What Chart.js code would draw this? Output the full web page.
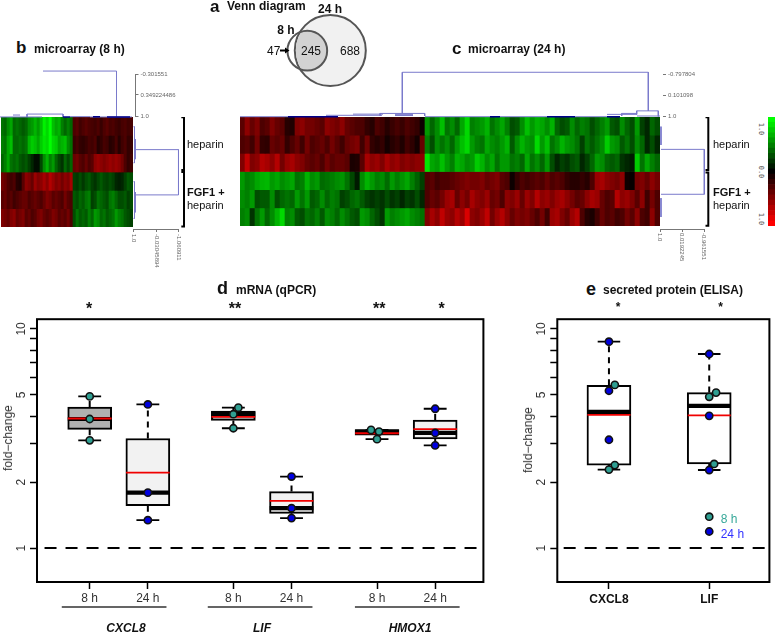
<!DOCTYPE html>
<html><head><meta charset="utf-8">
<script src="https://cdn.jsdelivr.net/npm/chart.js@4"></script>
<style>
html,body{margin:0;padding:0;background:#fff}
#fig{position:relative;width:775px;height:632px;overflow:hidden;background:#fff}
canvas{position:absolute}
.t{position:absolute;left:0;top:0;white-space:nowrap;line-height:1;font-family:"Liberation Sans",Arial,sans-serif;transform-origin:0 0;color:#111}
</style></head><body><div id="fig"></div>
<script>
// ---------- DATA ----------
// Panel a
const vennLabels = ['8 h', '24 h'];
const vennOnly8 = 47, vennBoth = 245, vennOnly24 = 688;
// Panel b heat map, expression x100 (green up, red down), rows top to bottom
const b1 = [45,40,55,65,40,45,40,35,40,55,60,70,60,75,95,85,100,75,65,70,50,40,50,40,-30,-35,-25,-30,-35,-30,-28,-25,-30,-22,-30,-35,-28,-30,-25,-22,-28,-30,-25,-28];
const b2 = [50,45,65,75,40,40,45,40,45,70,80,75,65,80,90,85,100,85,80,65,70,75,55,45,-22,-28,-20,-18,-22,-28,-25,-30,-15,-20,-28,-25,-15,-18,-28,-15,-25,-30,-20,-22];
const b3 = [40,50,65,45,40,45,35,30,35,25,15,5,5,28,55,70,50,60,40,28,20,40,28,40,-40,-45,-35,-30,-40,-30,-35,-55,-60,-55,-50,-55,-60,-55,-60,-55,-45,-30,-20,-25];
const b4 = [-45,-40,-30,-25,-30,-15,-12,-35,-55,-50,-40,-60,-50,-55,-65,-55,-70,-60,-50,-55,-45,-55,-50,-65,25,22,30,22,30,35,25,20,28,35,28,25,30,25,15,12,15,25,35,30];
const b5 = [-35,-40,-30,-35,-25,-30,-35,-40,-40,-30,-35,-40,-35,-30,-40,-50,-45,-35,-40,-35,-30,-45,-35,-30,35,30,40,35,45,50,25,30,45,40,35,30,45,50,40,30,30,35,25,30];
const b6 = [-50,-45,-40,-50,-55,-40,-45,-50,-35,-40,-30,-35,-45,-50,-40,-35,-40,-50,-45,-35,-40,-35,-45,-30,30,45,35,40,35,50,40,60,55,40,45,35,40,45,60,50,45,35,30,25];
// Panel c heat map
const c1 = [-35,-55,-40,-50,-30,-35,-50,-40,-35,-15,-12,-50,-55,-45,-45,-40,-35,-55,-50,-45,-55,-40,-35,-30,-30,-20,-15,-30,-25,-15,-22,-28,-22,-30,-25,-20,-5,
 60,40,55,75,45,55,40,65,85,50,55,60,70,45,55,65,50,30,35,55,75,60,70,65,55,70,40,30,35,55,40,50,45,30,40,50,60,35,30,55,40,30,60,25,15,40,30];
const c2 = [-30,-35,-25,-45,-20,-18,-40,-35,-40,-20,-30,-40,-25,-45,-30,-35,-40,-30,-45,-35,-25,-40,-45,-50,-25,-45,-20,-15,-20,-8,-15,-20,-12,-25,-18,-8,-40,
 50,30,55,45,55,40,60,75,85,60,50,45,65,55,50,60,70,35,55,70,60,55,85,60,75,45,55,70,60,55,45,25,45,35,45,55,80,60,55,35,45,30,55,40,15,30,15];
const c3 = [-50,-75,-50,-55,-70,-65,-55,-70,-45,-60,-65,-55,-50,-40,-35,-40,-30,-45,-35,-40,-40,-35,-10,-12,-35,-65,-55,-60,-50,-65,-55,-60,-50,-55,-50,-55,-55,
 90,65,60,75,60,50,70,65,55,60,80,70,55,65,45,60,60,45,50,40,65,45,55,40,60,30,15,25,20,30,35,15,25,40,60,55,40,35,40,20,15,10,80,45,65,50,40];
const c4 = [60,50,55,65,70,72,60,65,55,60,65,45,50,70,55,60,42,45,50,55,58,45,28,10,55,70,60,50,55,42,60,50,58,65,50,38,25,
 -30,-35,-25,-30,-30,-35,-40,-45,-50,-45,-45,-50,-40,-45,-50,-35,-30,-5,-20,-30,-25,-30,-35,-30,-40,-30,-35,-30,-20,-15,-15,-20,-15,-30,-60,-65,-55,-50,-45,-55,-5,-2,-45,-50,-40,-55,-45];
const c5 = [55,50,60,30,35,35,55,30,40,45,40,60,45,60,35,40,55,40,50,45,25,30,40,45,35,25,20,25,20,30,20,25,15,25,20,30,15,
 -30,-40,-35,-45,-60,-65,-40,-55,-45,-65,-55,-50,-60,-40,-45,-30,-55,-50,-60,-40,-60,-50,-70,-55,-60,-50,-60,-65,-55,-45,-35,-40,-55,-65,-60,-40,-30,-35,-70,-55,-60,-50,-35,-55,-25,-45,-30];
const c6 = [50,55,20,45,60,40,55,70,85,50,55,35,30,45,40,50,35,55,50,40,55,45,35,30,60,55,40,30,20,60,50,55,60,65,55,50,45,
 -50,-65,-55,-75,-60,-55,-70,-60,-85,-55,-50,-60,-75,-45,-60,-70,-55,-40,-50,-45,-50,-40,-30,-45,-25,-60,-65,-50,-40,-60,-70,-30,-15,-10,-25,-40,-30,-35,-25,-30,-45,-35,-55,-30,-25,-55,-30];
const colorKeyLevels = [100,90,80,70,60,50,40,30,20,10,0,-10,-20,-30,-40,-50,-60,-70,-80,-90,-100];
// Dendrogram axis ticks
const bTopTicks = [-0.301551, 0.349224486, 1.0];
const bTopTickText = ['-0.301551', '0.349224486', '1.0'];
const cTopTicks = [-0.797804, 0.101098, 1.0];
const cTopTickText = ['-0.797804', '0.101098', '1.0'];
const bSideTicks = [1.0, -0.03045894, -1.060911];
const bSideTickText = ['1.0', '-0.03045894', '-1.060911'];
const cSideTicks = [1.0, 0.0192245, -0.961551];
const cSideTickText = ['1.0', '0.0192245', '-0.961551'];
// Dendrogram merges: [from, to, at] in (leaf, height) or (height, row)
const bTopLight = [[43,116.5,-0.393],[0,42,1.03],[13,20,0.97],[27,63,0.94],[90,132,1.03],[70,90,1.02]];
const bTopNavy = [[63,70,1.03],[93,100,1.02],[107,130,1.03]];
const bTopStem = [[116.5,-0.393,1.03],[27,0.94,1.03],[63,0.94,1.03]];
const cTopLight = [[162.3,408.3,-0.872],[396.7,418.3,0.78],[381.7,396.7,0.89],[140,184.7,0.89],[0,48,1.03],[86,142,0.97],[113,143,0.92],[185,250,1.03],[260,297,1.03],[155,173,0.92],[155,173,0.95],[155,173,0.98],[297,307,1.03],[335,367,1.03],[367,397,0.93],[397,420,1.0]];
const cTopNavy = [[48,98,1.03],[250,260,1.03],[307,335,1.03],[367,380,1.03]];
const cTopStem = [[162.3,-0.872,0.89],[408.3,-0.872,0.78],[396.7,0.78,0.93],[418.3,0.78,1.02],[381.7,0.89,1],[140,0.89,1],[184.7,0.89,1]];
const bSideH = [[-1.0609,0.954,1.78],[-1.0609,0.954,4.25],[0.954,1,0.53],[0.954,1,2.5],[0.954,1,3.53],[0.954,1,5.53]];
const bSideV = [[-1.0609,1.78,4.25],[0.954,0.53,2.5],[0.954,3.53,5.53],[0.92,1.2,2.3],[0.92,4.1,5.2]];
const cSideH = [[-0.9616,0.956,1.78],[-0.9616,0.956,4.25],[0.956,1,0.53],[0.956,1,1.54],[0.956,1,4.46],[0.956,1,5.5]];
const cSideV = [[-0.9616,1.78,4.25],[0.956,0.53,1.54],[0.956,4.46,5.5]];
// Panel d, qPCR fold-change
const dTimes = ['8 h','24 h','8 h','24 h','8 h','24 h'];
const dGenes = ['CXCL8','LIF','HMOX1'];
const dQ1 = [3.48,1.56,3.82,1.44,3.27,3.15];
const dMedian = [3.88,1.79,4.08,1.52,3.40,3.35];
const dMean = [3.90,2.21,3.97,1.64,3.34,3.49];
const dQ3 = [4.40,3.16,4.22,1.81,3.47,3.84];
const dLow = [3.10,1.34,3.52,1.37,3.14,2.94];
const dHigh = [4.92,4.52,4.37,2.12,3.46,4.32];
const dPoints = [[4.92,3.88,3.10],[4.52,1.79,1.34],[4.37,4.08,3.52],[2.12,1.52,1.37],[3.46,3.40,3.14],[4.32,3.35,2.94]];
const dSignificance = ['*','','**','','**','*'];
// Panel e, ELISA fold-change
const eGenes = ['CXCL8','LIF'];
const eQ1 = [2.39,2.42];
const eMedian = [4.18,4.45];
const eMean = [4.05,4.03];
const eQ3 = [5.53,5.12];
const eLow = [2.28,2.27];
const eHigh = [8.74,7.68];
const ePoints8h = [[5.55,2.39,2.28],[5.12,4.90,2.42]];
const ePoints24h = [[8.74,5.22,3.12],[7.68,4.01,2.27]];
const eSignificance = ['*','*'];
const legendTimes = ['8 h','24 h'];

// ---------- LAYOUT / STYLE ----------
const dPos = [1,2,3.47,4.47,5.94,6.94];
const dJitterPx = [[0,0,0],[0,0,0],[5,0,0],[0,0,0],[-6,2,0],[0,0,0]];
const dGeneSpans = [[0.52,2.32],[3.03,4.83],[5.56,7.36]];
const ePos = [1,2];
const eJitter8hPx = [[6,6,0],[7,0,5]];
const TEAL = '#2f9f92', BLUE = '#0000e0', DEND = '#7a7acb', NAVY = '#00008b';
const FONT = '"Liberation Sans", Arial, sans-serif';
const fig = document.getElementById('fig');
Chart.defaults.font.family = FONT;
Chart.defaults.animation = false;
Chart.defaults.responsive = false;
Chart.defaults.plugins.legend.display = false;
Chart.defaults.plugins.tooltip.enabled = false;

function txt(s, x, y, o = {}) {
  const d = document.createElement('div');
  d.className = 't';
  d.textContent = s;
  d.style.fontSize = (o.size || 12) + 'px';
  if (o.bold) d.style.fontWeight = 'bold';
  if (o.italic) d.style.fontStyle = 'italic';
  if (o.color) d.style.color = o.color;
  if (o.font) d.style.fontFamily = o.font;
  const tx = o.anchor === 'middle' ? -50 : o.anchor === 'end' ? -100 : 0;
  d.style.transform = `translate(${x}px,${y}px) rotate(${o.rot || 0}deg) translate(${tx}%,-50%)`;
  fig.appendChild(d);
}
function mk(left, top, w, h, cfg) {
  const c = document.createElement('canvas');
  c.width = w; c.height = h;
  c.style.left = left + 'px'; c.style.top = top + 'px';
  c.style.width = w + 'px'; c.style.height = h + 'px';
  fig.appendChild(c);
  return new Chart(c.getContext('2d'), cfg);
}
const heatColor = v => v >= 0 ? `rgb(0,${Math.round(v * 2.55)},0)` : `rgb(${Math.round(-v * 2.55)},0,0)`;
function segs(list) {
  const out = [];
  list.forEach(s => { s.forEach(p => out.push({x: p[0], y: p[1]})); out.push({x: null, y: null}); });
  return out;
}
const lineDs = (list, color, width, extra = {}) => Object.assign({
  type: 'line', data: segs(list), borderColor: color, borderWidth: width, pointRadius: 0,
  spanGaps: false, fill: false, tension: 0, borderCapStyle: 'butt'
}, extra);

// ---------- HEAT MAPS ----------
function heat(left, top, w, h, rows) {
  mk(left, top, w, h, {
    type: 'bar',
    data: { labels: rows[0].map((_, i) => i + 1),
      datasets: rows.map(r => ({ data: r.map(() => 1), backgroundColor: r.map(heatColor), borderWidth: 0,
        categoryPercentage: 1, barPercentage: 1, stack: 's' })) },
    options: { maintainAspectRatio: false,
      scales: { x: { display: false, stacked: true }, y: { display: false, stacked: true, min: 0, max: rows.length, reverse: true } } }
  });
}
heat(1, 117, 132, 110, [b1,b2,b3,b4,b5,b6]);
heat(240, 117, 420, 109, [c1,c2,c3,c4,c5,c6]);
// colour key
mk(768, 117, 7, 109, {
  type: 'bar',
  data: { labels: colorKeyLevels, datasets: [{ data: colorKeyLevels.map(() => 1), backgroundColor: colorKeyLevels.map(heatColor), borderWidth: 0, categoryPercentage: 1, barPercentage: 1 }] },
  options: { indexAxis: 'y', maintainAspectRatio: false, scales: { x: { display: false, min: 0, max: 1 }, y: { display: false } } }
});
txt('1.0', 760, 129, { size: 7, rot: 90, anchor: 'middle', color: '#555', font: '"DejaVu Sans Mono", monospace' });
txt('0.0', 760, 172, { size: 7, rot: 90, anchor: 'middle', color: '#555', font: '"DejaVu Sans Mono", monospace' });
txt('1.0', 760, 219, { size: 7, rot: 90, anchor: 'middle', color: '#555', font: '"DejaVu Sans Mono", monospace' });

// ---------- DENDROGRAMS ----------
function topDend(left, w, plotW, xMax, ticks, text, light, navy, stem, showBorder) {
  const ls = light.map(a => [[a[0], a[2]], [a[1], a[2]]]).concat(stem.map(a => [[a[0], a[1]], [a[0], a[2]]]));
  const ns = navy.map(a => [[a[0], a[2]], [a[1], a[2]]]);
  mk(left, 60, w, 62, {
    type: 'line',
    data: { datasets: [
      lineDs(ns, NAVY, 1.5, { clip: false }),
      lineDs(ls, DEND, 1, { clip: false }) ] },
    options: { maintainAspectRatio: false, layout: { padding: { top: 14, bottom: 6 } },
      scales: {
        x: { type: 'linear', display: false, min: 0, max: xMax },
        y: { type: 'linear', position: 'right', min: ticks[0], max: 1, reverse: true,
          afterFit: s => { s.width = w - plotW; },
          afterBuildTicks: s => { s.ticks = ticks.map(v => ({ value: v })); },
          border: { display: showBorder, color: '#777', width: 1 },
          grid: { drawOnChartArea: false, tickLength: 3, color: '#777', tickWidth: 1 },
          ticks: { autoSkip: false, padding: 2, color: '#666', font: { size: 6 },
            callback: (v, i) => text[i] } }
      } }
  });
}
topDend(0, 195, 135.5, 135.5, bTopTicks, bTopTickText, bTopLight, bTopNavy, bTopStem, true);
topDend(240, 480, 423, 423, cTopTicks, cTopTickText, cTopLight, cTopNavy, cTopStem, false);

function sideDend(left, w, padL, padR, top, h, rowsMax, ticks, H, V, bar, tick, split) {
  const ls = H.map(a => [[a[0], a[2]], [a[1], a[2]]]).concat(V.map(a => [[a[0], a[1]], [a[0], a[2]]]));
  const br = [[[tick, 0.02], [bar, 0.02], [bar, split[0]], [tick, split[0]]], [[tick, split[1]], [bar, split[1]], [bar, 5.98], [tick, 5.98]]];
  mk(left, top, w, h, {
    type: 'line',
    data: { datasets: [
      lineDs(br, '#000', 2, { clip: false }),
      lineDs(ls, DEND, 1, { clip: false }) ] },
    options: { maintainAspectRatio: false, layout: { padding: { left: padL, right: padR } },
      scales: {
        y: { type: 'linear', display: false, min: 0, max: rowsMax, reverse: true },
        x: { type: 'linear', position: 'bottom', min: ticks[2], max: 1, reverse: true,
          afterFit: s => { s.height = 6; },
          afterBuildTicks: s => { s.ticks = ticks.map(v => ({ value: v })); },
          border: { display: true, color: '#777', width: 1 },
          grid: { drawOnChartArea: false, tickLength: 3, color: '#777' },
          ticks: { display: false } }
      } }
  });
}
sideDend(125, 70, 8.5, 16.5, 117, 118, 6.11, bSideTicks, bSideH, bSideV, -1.313, -1.19, [2.89, 3.0]);
sideDend(652, 70, 8, 17.7, 117, 118, 6.16, cSideTicks, cSideH, cSideV, -1.139, -1.015, [2.91, 3.05]);
bSideTickText.forEach((t, i) => txt(t, [134, 156.5, 178.5][i], 234, { size: 6, rot: 90, color: '#666' }));
cSideTickText.forEach((t, i) => txt(t, [660, 682.3, 704.3][i], 233, { size: 6, rot: 90, color: '#666' }));

// ---------- VENN ----------
const vennScale = 35.5 / Math.sqrt(vennOnly24 + vennBoth);
const rOf = n => vennScale * Math.sqrt(n);
mk(260, 10, 115, 82, {
  type: 'bubble',
  data: { datasets: [
    { label: vennLabels[0], data: [{ x: 47.3, y: 40.7, r: rOf(vennOnly8 + vennBoth) }], backgroundColor: 'rgba(0,0,0,0)', borderColor: '#555', borderWidth: 2, clip: false },
    { label: vennLabels[1], data: [{ x: 70.3, y: 40.5, r: rOf(vennOnly24 + vennBoth) }], backgroundColor: '#f1f1f1', borderColor: '#555', borderWidth: 2, clip: false }
  ] },
  options: { maintainAspectRatio: false, layout: { autoPadding: false },
    scales: { x: { type: 'linear', display: false, min: 0, max: 115 }, y: { type: 'linear', display: false, min: 0, max: 82, reverse: true } } },
  plugins: [{ id: 'overlap',
    beforeDatasetDraw(ch, a) {
      if (a.index !== 0) return;
      const p8 = ch.getDatasetMeta(0).data[0], p24 = ch.getDatasetMeta(1).data[0], c = ch.ctx;
      c.save(); c.beginPath(); c.arc(p24.x, p24.y, rOf(vennOnly24 + vennBoth) - 1, 0, 7); c.clip();
      c.beginPath(); c.arc(p8.x, p8.y, rOf(vennOnly8 + vennBoth), 0, 7); c.fillStyle = '#d2d2d2'; c.fill(); c.restore();
    },
    afterDraw(ch) {
      const c = ch.ctx, X = ch.scales.x.getPixelForValue(20), Y = ch.scales.y.getPixelForValue(40.5);
      c.save(); c.strokeStyle = '#000'; c.fillStyle = '#000'; c.lineWidth = 2;
      c.beginPath(); c.moveTo(X, Y); c.lineTo(X + 6, Y); c.stroke();
      c.beginPath(); c.moveTo(X + 9.5, Y); c.lineTo(X + 5, Y - 3); c.lineTo(X + 5, Y + 3); c.fill(); c.restore();
    } }]
});

// ---------- BOX PLOTS ----------
const frame = { id: 'frame', afterDraw(ch) {
  const a = ch.chartArea, c = ch.ctx;
  c.save(); c.strokeStyle = '#000'; c.lineWidth = 2; c.strokeRect(a.left, a.top, a.right - a.left, a.bottom - a.top); c.restore();
} };
function yScale(axisW) {
  return { type: 'logarithmic', min: 0.73, max: 11.07,
    afterFit: s => { s.width = axisW; },
    afterBuildTicks: s => { s.ticks = [1,2,3,4,5,6,7,8,9,10].map(v => ({ value: v })); },
    border: { display: false },
    grid: { drawOnChartArea: false, tickLength: 7, tickWidth: 1.5, tickColor: '#000' },
    ticks: { autoSkip: false, minRotation: 90, maxRotation: 90, crossAlign: 'center', padding: 2, color: '#333', font: { size: 12 },
      callback: v => [1,2,5,10].includes(v) ? String(v) : '' } };
}
function boxDatasets(pos, q1, med, mean, q3, lo, hi, fills, boxHalf, capHalf, ptsTeal, ptsBlue) {
  const ds = [];
  ds.push(lineDs([[[0, 1], [20, 1]]], '#000', 2, { borderDash: [12, 9], borderDashOffset: 8, order: 9 }));
  ds.push({ type: 'bar', data: pos.map((x, i) => ({ x, y: [q1[i], q3[i]] })), backgroundColor: fills, borderColor: '#000', borderWidth: 2,
    borderSkipped: false, barThickness: 44, grouped: false, order: 8 });
  ds.push(lineDs(pos.flatMap((x, i) => [[[x, q3[i]], [x, hi[i]]], [[x, q1[i]], [x, lo[i]]]]), '#000', 2, { borderDash: [6, 5], order: 7 }));
  ds.push(lineDs(pos.flatMap((x, i) => [[[x - capHalf, hi[i]], [x + capHalf, hi[i]]], [[x - capHalf, lo[i]], [x + capHalf, lo[i]]]]), '#000', 1.8, { order: 6 }));
  ds.push(lineDs(pos.map((x, i) => [[x - boxHalf, med[i]], [x + boxHalf, med[i]]]), '#000', 4.2, { order: 5 }));
  ds.push(lineDs(pos.map((x, i) => [[x - boxHalf, mean[i]], [x + boxHalf, mean[i]]]), '#f00000', 1.8, { order: 4 }));
  const pt = (data, col) => ({ type: 'scatter', data, showLine: false, pointRadius: 3.6, pointBackgroundColor: col, pointBorderColor: '#111', pointBorderWidth: 1.6, order: 1, clip: false });
  ds.push(pt(ptsBlue, BLUE));
  ds.push(pt(ptsTeal, TEAL));
  return ds;
}
// Panel d
const dUnit = 58.5;
const dTealPts = [], dBluePts = [];
dPoints.forEach((g, i) => g.forEach((v, j) => (i % 2 ? dBluePts : dTealPts).push({ x: dPos[i] + dJitterPx[i][j] / dUnit, y: v })));
const dDs = boxDatasets(dPos, dQ1, dMedian, dMean, dQ3, dLow, dHigh, ['#b0b0b0','#f2f2f2','#b0b0b0','#f2f2f2','#b0b0b0','#f2f2f2'], 22 / dUnit, 11.5 / dUnit, dTealPts, dBluePts);
dDs.push(lineDs(dGeneSpans.map(s => [[s[0], 0.538], [s[1], 0.538]]), '#333', 1.5, { clip: false, order: 0 }));
mk(0, 310, 489, 322, {
  type: 'bar',
  data: { datasets: dDs },
  options: { maintainAspectRatio: false, layout: { padding: { top: 4, right: 3 } },
    scales: {
      y: yScale(37),
      x: { type: 'linear', offset: false, min: 0.094, max: 7.769, afterFit: s => { s.height = 50; },
        afterBuildTicks: s => { s.ticks = dPos.map(v => ({ value: v })); },
        border: { display: false },
        grid: { offset: false, drawOnChartArea: false, tickLength: 7, tickWidth: 1.5, tickColor: '#000' },
        ticks: { autoSkip: false, maxRotation: 0, padding: 2, color: '#333', font: { size: 12 }, callback: (v, i) => dTimes[i] } }
    } },
  plugins: [frame]
});
// Panel e
const eUnit = 102.4;
const eTealPts = [], eBluePts = [];
ePoints8h.forEach((g, i) => g.forEach((v, j) => eTealPts.push({ x: ePos[i] + eJitter8hPx[i][j] / eUnit, y: v })));
ePoints24h.forEach((g, i) => g.forEach(v => eBluePts.push({ x: ePos[i], y: v })));
const eDs = boxDatasets(ePos, eQ1, eMedian, eMean, eQ3, eLow, eHigh, ['#ffffff','#ffffff'], 22 / eUnit, 11.5 / eUnit, eTealPts, eBluePts);
eDs.push({ type: 'scatter', data: [{ x: 2, y: 1.39 }], showLine: false, pointRadius: 3.6, pointBackgroundColor: TEAL, pointBorderColor: '#111', pointBorderWidth: 1.6, order: 1 });
eDs.push({ type: 'scatter', data: [{ x: 2, y: 1.19 }], showLine: false, pointRadius: 3.6, pointBackgroundColor: BLUE, pointBorderColor: '#111', pointBorderWidth: 1.6, order: 1 });
mk(520, 310, 255, 322, {
  type: 'bar',
  data: { datasets: eDs },
  options: { maintainAspectRatio: false, layout: { padding: { top: 4, right: 1 } },
    scales: {
      y: yScale(37.3),
      x: { type: 'linear', offset: false, min: 0.485, max: 2.6, afterFit: s => { s.height = 50; },
        afterBuildTicks: s => { s.ticks = ePos.map(v => ({ value: v })); },
        border: { display: false },
        grid: { offset: false, drawOnChartArea: false, tickLength: 7, tickWidth: 1.5, tickColor: '#000' },
        ticks: { autoSkip: false, maxRotation: 0, padding: 3, color: '#111', font: { size: 12, weight: 'bold' }, callback: (v, i) => eGenes[i] } }
    } },
  plugins: [frame]
});

// ---------- TEXT ----------
txt('a', 210, 6, { size: 17, bold: true });
txt('Venn diagram', 227, 6, { bold: true });
txt(vennLabels[1], 330, 9, { anchor: 'middle', bold: true });
txt(vennLabels[0], 286, 29.5, { anchor: 'middle', bold: true });
txt(String(vennOnly8), 267, 50.5);
txt(String(vennBoth), 311, 50.5, { anchor: 'middle' });
txt(String(vennOnly24), 350, 50.5, { anchor: 'middle' });
txt('b', 16, 47, { size: 17, bold: true });
txt('microarray (8 h)', 34, 49, { bold: true });
txt('c', 452, 48, { size: 17, bold: true });
txt('microarray (24 h)', 468, 49, { bold: true });
[[187, 144, 'heparin'], [713, 144, 'heparin'], [187, 205, 'heparin'], [713, 205, 'heparin']].forEach(a => txt(a[2], a[0], a[1], { size: 11 }));
txt('FGF1 +', 187, 192, { size: 11, bold: true });
txt('FGF1 +', 713, 192, { size: 11, bold: true });
txt('d', 217, 288, { size: 18, bold: true });
txt('mRNA (qPCR)', 236, 290, { bold: true });
txt('e', 586, 289, { size: 18, bold: true });
txt('secreted protein (ELISA)', 603, 290, { bold: true });
dSignificance.forEach((s, i) => { if (s) txt(s, [89, 0, 235, 0, 379.3, 441.7][i], 309, { size: 16, bold: true, anchor: 'middle' }); });
eSignificance.forEach((s, i) => txt(s, [618, 720.7][i], 307, { size: 12, bold: true, anchor: 'middle' }));
txt('fold\u2212change', 8, 438, { rot: -90, anchor: 'middle', color: '#333' });
txt('fold\u2212change', 528, 440, { rot: -90, anchor: 'middle', color: '#333' });
dGenes.forEach((g, i) => txt(g, [126, 262, 410][i], 628, { bold: true, italic: true, anchor: 'middle' }));
txt(legendTimes[0], 720.7, 518.7, { color: '#37a899' });
txt(legendTimes[1], 720.7, 533.5, { color: '#3333ff' });
</script></body></html>
